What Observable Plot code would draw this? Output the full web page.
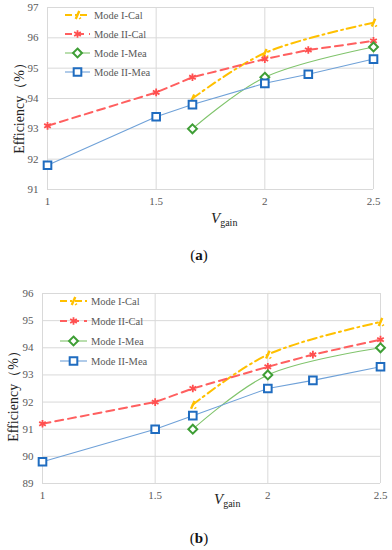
<!DOCTYPE html>
<html><head><meta charset="utf-8">
<script src="https://cdn.jsdelivr.net/npm/d3@7"></script>
<script src="https://cdn.jsdelivr.net/npm/@observablehq/plot@0.6"></script>
<style>
body{margin:0;background:#fff;width:392px;}
svg{display:block;}
.cap{font-family:"Liberation Serif",serif;font-size:15px;color:#111;text-align:center;padding-left:6px;}
#capA{height:30px;line-height:30px;}
#capB{height:30px;line-height:36px;}
</style></head>
<body>
<div id="chartA"></div>
<div class="cap" id="capA">(<b>a</b>)</div>
<div id="chartB"></div>
<div class="cap" id="capB">(<b>b</b>)</div>
<script>
// ---------- data ----------
const seriesNames = ["Mode I-Cal", "Mode II-Cal", "Mode I-Mea", "Mode II-Mea"];
const xTicks = [1, 1.5, 2, 2.5];
const yTicksA = [91, 92, 93, 94, 95, 96, 97];
const yTicksB = [89, 90, 91, 92, 93, 94, 95, 96];

// chart (a)
const aX_ICal = [1.667, 2, 2.5];
const aY_ICal = [94.0, 95.5, 96.5];
const aX_IICal = [1, 1.5, 1.667, 2, 2.2, 2.5];
const aY_IICal = [93.1, 94.2, 94.7, 95.3, 95.6, 95.9];
const aX_IMea = [1.667, 2, 2.5];
const aY_IMea = [93.0, 94.7, 95.7];
const aX_IIMea = [1, 1.5, 1.667, 2, 2.2, 2.5];
const aY_IIMea = [91.8, 93.4, 93.8, 94.5, 94.8, 95.3];

// chart (b)
const bX_ICal = [1.667, 2, 2.5];
const bY_ICal = [91.9, 93.75, 94.95];
const bX_IICal = [1, 1.5, 1.667, 2, 2.2, 2.5];
const bY_IICal = [91.2, 92.0, 92.5, 93.3, 93.75, 94.3];
const bX_IMea = [1.667, 2, 2.5];
const bY_IMea = [91.0, 93.0, 94.0];
const bX_IIMea = [1, 1.5, 1.667, 2, 2.2, 2.5];
const bY_IIMea = [89.8, 91.0, 91.5, 92.5, 92.8, 93.3];

// ---------- styles ----------
const slash = {
  draw(ctx, size) {
    const r = Math.sqrt(size) * 0.55;
    ctx.moveTo(-r * 0.45, r);
    ctx.lineTo(r * 0.45, -r);
    ctx.moveTo(r * 0.55, r * 0.7);
    ctx.lineTo(r * 0.75, r * 1.0);
  }
};
const styles = [
  {stroke: "#FFC000", width: 2, dash: "9,4,2,4", curve: "catmull-rom", symbol: slash, mstroke: "#FFC000", mfill: "none", mwidth: 2.4, r: 4},
  {stroke: "#FF5F5F", width: 2, dash: "8,5", curve: "linear", symbol: d3.symbolAsterisk, mstroke: "#FF4F4F", mfill: "none", mwidth: 1.8, r: 3.6},
  {stroke: "#80C46C", width: 1.1, dash: null, curve: "catmull-rom", symbol: d3.symbolDiamond2, mstroke: "#3E9E35", mfill: "#fff", mwidth: 2, r: 4},
  {stroke: "#6FA1D8", width: 1.1, dash: null, curve: "linear", symbol: d3.symbolSquare, mstroke: "#1F6CC0", mfill: "#fff", mwidth: 2, r: 4.3}
];

function rows(xs, ys) { return xs.map((x, i) => ({x, y: ys[i]})); }

function makeChart(cfg) {
  const marks = [
    Plot.gridX(xTicks, {stroke: "#D9D9D9", strokeOpacity: 1, strokeWidth: 1}),
    Plot.gridY(cfg.yTicks, {stroke: "#D9D9D9", strokeOpacity: 1, strokeWidth: 1}),
    Plot.axisX(xTicks, {tickSize: 0, tickPadding: cfg.xPad, tickFormat: d => String(d), label: null, fill: "#595959"}),
    Plot.axisY(cfg.yTicks, {tickSize: 0, tickPadding: 9, tickFormat: d => String(d), label: null, fill: "#595959"})
  ];
  cfg.data.forEach((d, i) => {
    const s = styles[i];
    const data = rows(d[0], d[1]);
    marks.push(Plot.line(data, {x: "x", y: "y", stroke: s.stroke, strokeWidth: s.width, strokeDasharray: s.dash, curve: s.curve}));
  });
  cfg.data.forEach((d, i) => {
    const s = styles[i];
    const data = rows(d[0], d[1]);
    marks.push(Plot.dot(data, {x: "x", y: "y", symbol: s.symbol, r: s.r, stroke: s.mstroke, fill: s.mfill, strokeWidth: s.mwidth}));
  });
  const svgEl = Plot.plot({
    width: 392,
    height: cfg.height,
    marginLeft: cfg.ml, marginRight: cfg.mr, marginTop: cfg.mt, marginBottom: cfg.mb,
    x: {domain: [1, 2.5], axis: null},
    y: {domain: cfg.yDomain, axis: null},
    style: {fontFamily: "'Liberation Serif', serif", fontSize: "11px", background: "#fff"},
    marks
  });
  const svg = d3.select(svgEl);
  // legend
  const lg = svg.append("g").attr("text-anchor", "start");
  seriesNames.forEach((name, i) => {
    const s = styles[i];
    const y = cfg.legY + i * cfg.legDy;
    lg.append("line").attr("x1", cfg.legX0).attr("x2", cfg.legX1).attr("y1", y).attr("y2", y)
      .attr("stroke", s.stroke).attr("stroke-width", s.width)
      .attr("stroke-dasharray", s.dash ? (i === 0 ? "7,3,2,3" : "7,5") : null);
    lg.append("path").attr("transform", `translate(${(cfg.legX0 + cfg.legX1) / 2},${y})`)
      .attr("d", d3.symbol(s.symbol, Math.PI * s.r * s.r)())
      .attr("stroke", s.mstroke).attr("fill", s.mfill).attr("stroke-width", s.mwidth);
    lg.append("text").attr("x", cfg.legX1 + 4).attr("y", y).attr("dy", "0.35em")
      .attr("text-anchor", "start")
      .attr("fill", "#595959").attr("font-family", "'Liberation Serif', serif").attr("font-size", "10.5px")
      .text(name);
  });
  // y label
  svg.append("text").attr("transform", `translate(${cfg.ylx},${cfg.yly}) rotate(-90)`)
    .attr("text-anchor", "middle").attr("dy", "0.35em")
    .attr("font-family", "'Liberation Serif', serif").attr("font-size", "14px").attr("fill", "#222")
    .text("Efficiency（%）");
  // x label
  const xl = svg.append("text").attr("x", cfg.xlx).attr("y", cfg.xly).attr("text-anchor", "start")
    .attr("font-family", "'Liberation Serif', serif").attr("fill", "#222");
  xl.append("tspan").attr("font-style", "italic").attr("font-size", "15px").text("V");
  xl.append("tspan").attr("font-size", "10px").attr("dy", "3").text("gain");
  return svgEl;
}

document.getElementById("chartA").appendChild(makeChart({
  height: 240, ml: 47, mr: 19, mt: 7, mb: 51, xPad: 8,
  yDomain: [91, 97], yTicks: yTicksA,
  data: [[aX_ICal, aY_ICal], [aX_IICal, aY_IICal], [aX_IMea, aY_IMea], [aX_IIMea, aY_IIMea]],
  legX0: 65, legX1: 90, legY: 15, legDy: 19,
  ylx: 19, yly: 105, xlx: 211, xly: 223
}));
document.getElementById("chartB").appendChild(makeChart({
  height: 250, ml: 42, mr: 12, mt: 23, mb: 37, xPad: 8,
  yDomain: [89, 96], yTicks: yTicksB,
  data: [[bX_ICal, bY_ICal], [bX_IICal, bY_IICal], [bX_IMea, bY_IMea], [bX_IIMea, bY_IIMea]],
  legX0: 60, legX1: 87, legY: 31, legDy: 20,
  ylx: 13, yly: 123, xlx: 214, xly: 234
}));
</script>
</body></html>
